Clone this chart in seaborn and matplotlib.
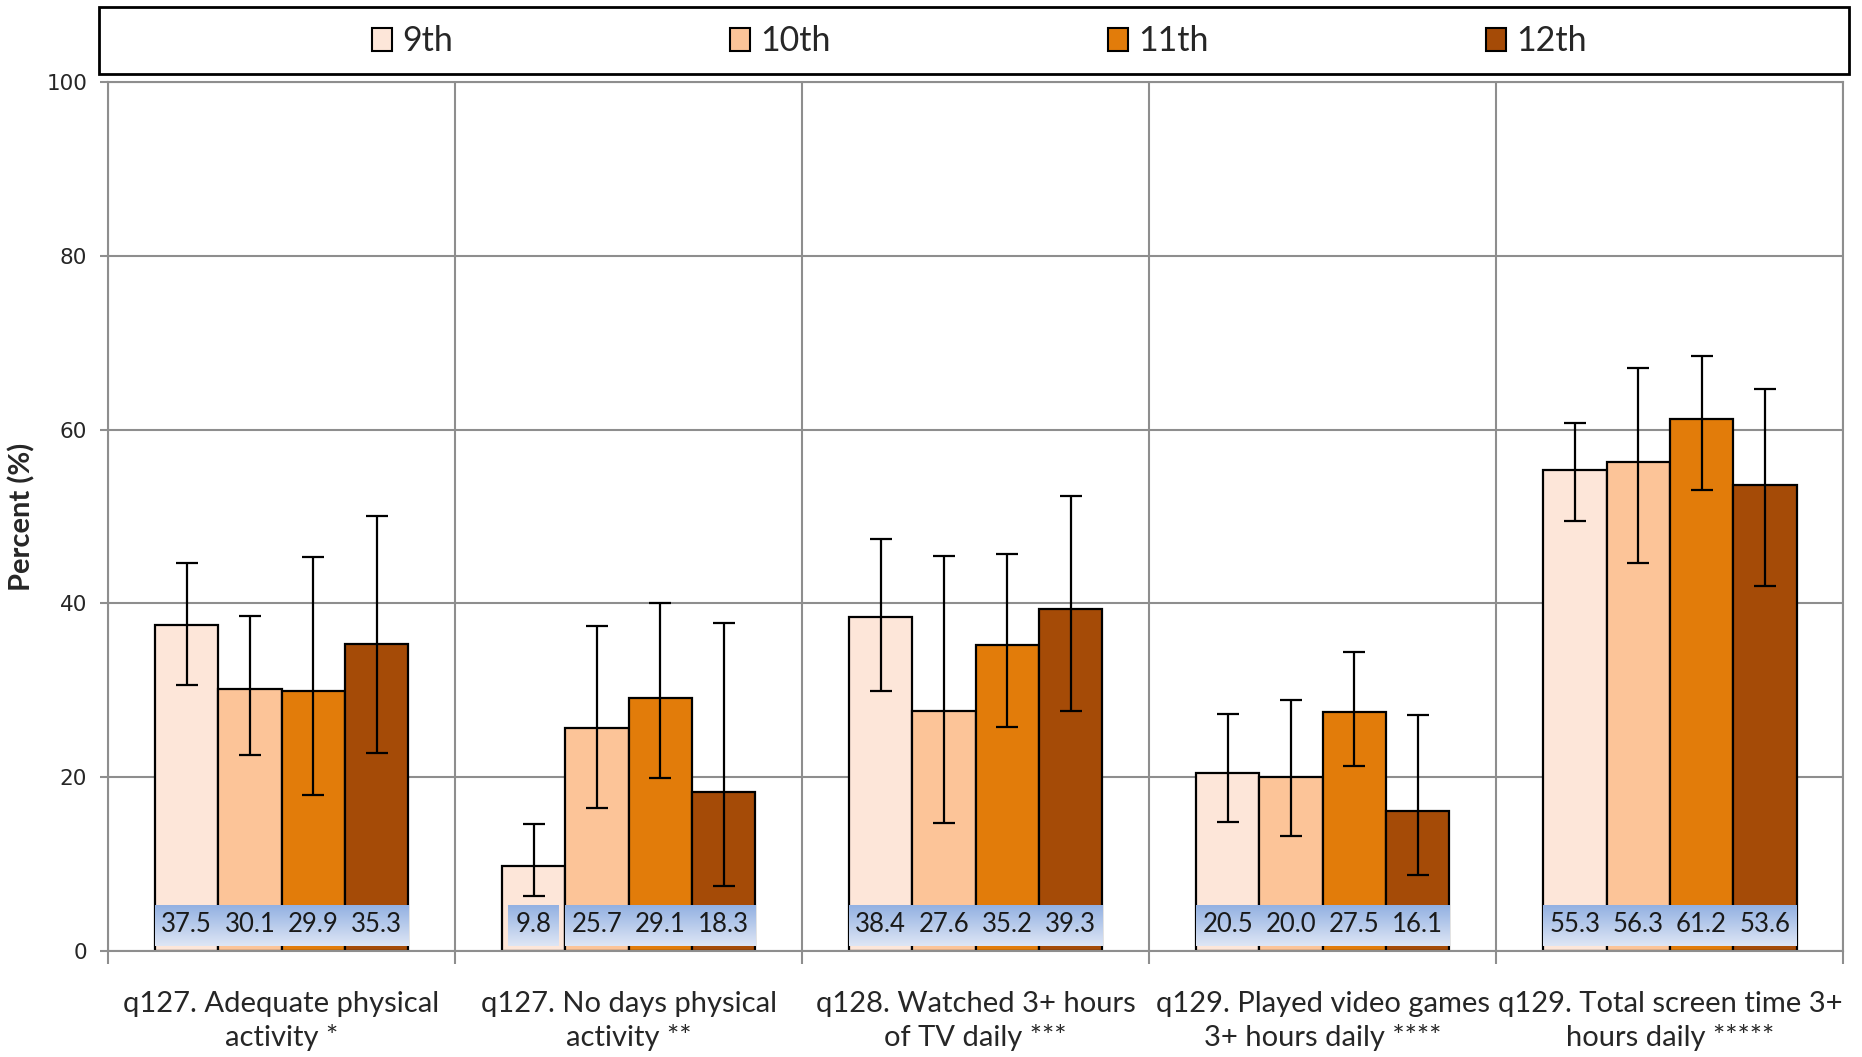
import matplotlib.pyplot as plt
import matplotlib.patches as mpatches
import matplotlib.colors as mcolors
import pandas as pd
import seaborn as sns
import numpy as np

# data
categories = [
    'q127. Adequate physical\nactivity *',
    'q127. No days physical\nactivity **',
    'q128. Watched 3+ hours\nof TV daily ***',
    'q129. Played video games\n3+ hours daily ****',
    'q129. Total screen time 3+\nhours daily *****',
]
grades = ['9th', '10th', '11th', '12th']

pct_9th = [37.5, 9.8, 38.4, 20.5, 55.3]
pct_10th = [30.1, 25.7, 27.6, 20.0, 56.3]
pct_11th = [29.9, 29.1, 35.2, 27.5, 61.2]
pct_12th = [35.3, 18.3, 39.3, 16.1, 53.6]

ci_low_9th = [30.6, 6.3, 29.9, 14.9, 49.5]
ci_low_10th = [22.6, 16.5, 14.7, 13.2, 44.6]
ci_low_11th = [17.9, 19.9, 25.8, 21.3, 53.1]
ci_low_12th = [22.8, 7.5, 27.6, 8.8, 42.0]

ci_high_9th = [44.7, 14.6, 47.4, 27.3, 60.8]
ci_high_10th = [38.6, 37.4, 45.5, 28.9, 67.1]
ci_high_11th = [45.3, 40.1, 45.7, 34.4, 68.5]
ci_high_12th = [50.1, 37.7, 52.4, 27.2, 64.7]

colors = ['#FDE6D9', '#FCC498', '#E27C0A', '#A54B07']

pcts = [pct_9th, pct_10th, pct_11th, pct_12th]
lows = [ci_low_9th, ci_low_10th, ci_low_11th, ci_low_12th]
highs = [ci_high_9th, ci_high_10th, ci_high_11th, ci_high_12th]

rows = []
for g, vals in zip(grades, pcts):
    for c, v in zip(categories, vals):
        rows.append({'Category': c, 'Grade': g, 'Percent': v})
df = pd.DataFrame(rows)

sns.set_style('white')
plt.rcParams['font.family'] = ['Lato', 'DejaVu Sans']

fig = plt.figure(figsize=(18.62, 10.57), dpi=100)
fig.patch.set_facecolor('white')
ax = fig.add_axes([0.058, 0.1003, 0.932, 0.8221])

sns.barplot(data=df, x='Category', y='Percent', hue='Grade', order=categories,
            hue_order=grades, palette=colors, width=0.73, gap=0,
            edgecolor='black', linewidth=1.6, errorbar=None, legend=False,
            saturation=1, ax=ax, zorder=2)

grid_col = '#8e8e8e'
# gradient for the value label boxes (dark blue at top, pale at bottom)
grad_cmap = mcolors.LinearSegmentedColormap.from_list('lbl', ['#DEE6F5', '#93B1E2'])
grad = np.linspace(1, 0, 64).reshape(-1, 1)

bar_conts = list(ax.containers)
for i, cont in enumerate(bar_conts):
    for j, bar in enumerate(cont):
        xc = bar.get_x() + bar.get_width() / 2
        val = pcts[i][j]
        ax.errorbar(xc, val, yerr=[[val - lows[i][j]], [highs[i][j] - val]],
                    fmt='none', ecolor='black', elinewidth=1.6, capsize=8,
                    capthick=1.6, zorder=4)
        label = f'{val:.1f}'
        w = bar.get_width() * min(1.0, 0.2 + 0.2 * len(label))
        ax.imshow(grad, cmap=grad_cmap, extent=[xc - w / 2, xc + w / 2, 0.6, 5.3],
                  origin='upper', aspect='auto', interpolation='bilinear', zorder=3)
        ax.text(xc, 3.0, label, ha='center', va='center', fontsize=18.5,
                color='#1a1a1a', zorder=5)

ax.set_xlim(-0.5, len(categories) - 0.5)
ax.set_ylim(0, 100)
ax.set_yticks(range(0, 101, 20))
ax.tick_params(axis='y', labelsize=15.5, length=6, width=1.5, color=grid_col,
               left=True, pad=9)
for lbl in ax.get_yticklabels():
    lbl.set_family('DejaVu Sans')

ax.set_xticks(range(len(categories)))
ax.set_xticklabels(categories, fontsize=21, linespacing=1.32)
ax.tick_params(axis='x', which='major', length=0, pad=29)
ax.set_xticks(np.arange(-0.5, len(categories), 1.0), minor=True)
ax.tick_params(axis='x', which='minor', length=9, width=1.5, color=grid_col,
               bottom=True)
ax.grid(True, which='minor', axis='x', color=grid_col, linewidth=1.5)
ax.grid(True, which='major', axis='y', color=grid_col, linewidth=1.5)
ax.set_axisbelow(True)
for sp in ax.spines.values():
    sp.set_color(grid_col)
    sp.set_linewidth(1.5)

ax.set_xlabel('')
ax.set_ylabel('Percent (%)', fontsize=21, fontweight='bold', labelpad=8)

# legend with its own frame across the top
frame = mpatches.Rectangle((0.0532, 0.930), 0.940, 0.0634, transform=fig.transFigure,
                           facecolor='white', edgecolor='black', linewidth=2)
fig.patches.append(frame)
handles = [mpatches.Patch(facecolor=c, edgecolor='black', linewidth=1.5) for c in colors]
fig.legend(handles, grades, loc='center', bbox_to_anchor=(0.526, 0.961), ncol=4,
           frameon=False, fontsize=24.5, handlelength=0.58, handleheight=0.68,
           handletextpad=0.3, columnspacing=8.15)

plt.savefig('out.png', dpi=100)
